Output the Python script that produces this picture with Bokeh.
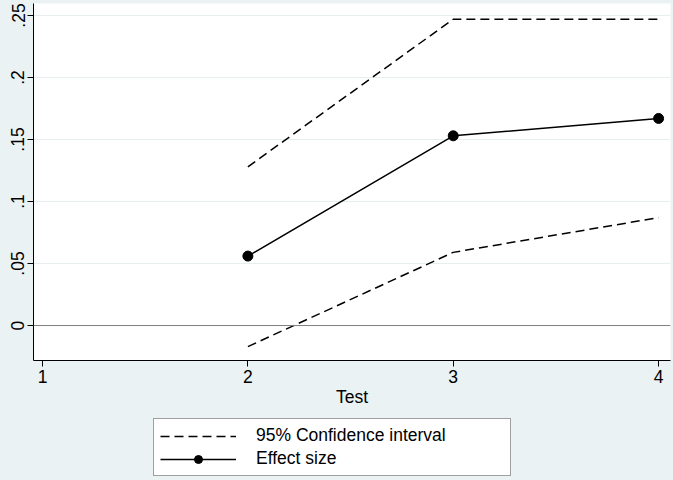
from bokeh.plotting import figure
from bokeh.models import Range1d, FixedTicker, Span, Legend, LegendItem
from bokeh.layouts import column
from bokeh.embed import file_html
from bokeh.resources import INLINE

# ---- data ----
tests = [2, 3, 4]
effect_size = [0.056, 0.153, 0.167]
ci_upper = [0.128, 0.247, 0.247]
ci_lower = [-0.017, 0.059, 0.087]

x_ticks = [1, 2, 3, 4]
y_ticks = [0, 0.05, 0.1, 0.15, 0.2, 0.25]
y_tick_labels = ["0", ".05", ".1", ".15", ".2", ".25"]
zero_line = 0
legend_labels = ["95% Confidence interval", "Effect size"]

BG = "#EAF2F3"
FONT = "Liberation Sans"
FS = "17.5px"
DASH = "9 5"

p = figure(
    width=673, height=416,
    output_backend="svg", toolbar_location=None,
    x_range=Range1d(0.956, 4.058), y_range=Range1d(-0.0282, 0.2597),
    min_border_left=33, min_border_right=3, min_border_top=3, min_border_bottom=56,
    background_fill_color="white", border_fill_color=BG,
)
p.outline_line_color = None

# axes
p.xaxis.ticker = FixedTicker(ticks=x_ticks)
p.yaxis.ticker = FixedTicker(ticks=y_ticks)
p.yaxis.major_label_overrides = {t: l for t, l in zip(y_ticks, y_tick_labels)}
p.yaxis.major_label_orientation = "vertical"
for ax in (p.xaxis, p.yaxis):
    ax.axis_line_color = "black"
    ax.axis_line_width = 1
    ax.major_tick_line_color = "black"
    ax.major_tick_out = 6
    ax.major_tick_in = 0
    ax.minor_tick_line_color = None
    ax.major_label_text_font = FONT
    ax.major_label_text_font_size = FS
    ax.major_label_text_color = "black"
    ax.major_label_standoff = 3
p.xaxis.axis_label = "Test"
p.xaxis.axis_label_text_font = FONT
p.xaxis.axis_label_text_font_size = FS
p.xaxis.axis_label_text_font_style = "normal"
p.xaxis.axis_label_text_color = "black"
p.xaxis.axis_label_standoff = 1

p.xgrid.grid_line_color = None
p.ygrid.grid_line_color = "#E6EEF0"
p.ygrid.grid_line_width = 1

p.add_layout(Span(location=zero_line, dimension="width", line_color="#7F7F7F", line_width=1))

p.line(tests, ci_upper, line_color="black", line_width=1.5, line_dash=DASH)
p.line(tests, ci_lower, line_color="black", line_width=1.5, line_dash=DASH)
p.line(tests, effect_size, line_color="black", line_width=1.5)
p.scatter(tests, effect_size, size=10, marker="circle", fill_color="black", line_color="black")

# ---- legend strip below the plot (same series, drawn outside its view) ----
lg = figure(
    width=673, height=64,
    output_backend="svg", toolbar_location=None,
    x_range=Range1d(100, 101), y_range=Range1d(100, 101),
    x_axis_type=None, y_axis_type=None,
    min_border=0,
    background_fill_color=BG, border_fill_color=BG,
)
lg.outline_line_color = None
lg.grid.visible = False
l_ci = lg.line(tests, ci_upper, line_color="black", line_width=1.5, line_dash=DASH)
l_eff = lg.line(tests, effect_size, line_color="black", line_width=1.5)
l_pts = lg.scatter(tests, effect_size, size=10, marker="circle", fill_color="black", line_color="black")

legend = Legend(
    items=[
        LegendItem(label=legend_labels[0], renderers=[l_ci]),
        LegendItem(label=legend_labels[1], renderers=[l_eff, l_pts]),
    ],
    location=(120, 4), margin=0, padding=6,
    glyph_width=76, glyph_height=20, label_height=20, label_width=248,
    label_standoff=20, spacing=2,
    label_text_font=FONT, label_text_font_size=FS, label_text_color="black",
    border_line_color="#404040", border_line_width=1,
    background_fill_color="white", background_fill_alpha=1.0,
)
lg.add_layout(legend)

layout = column(p, lg, spacing=0)

html = file_html(layout, INLINE)
html = html.replace("<head>", "<head><style>html,body{margin:0;padding:0;background:" + BG + ";overflow:hidden;}</style>", 1)
open("out.html", "w").write(html)
